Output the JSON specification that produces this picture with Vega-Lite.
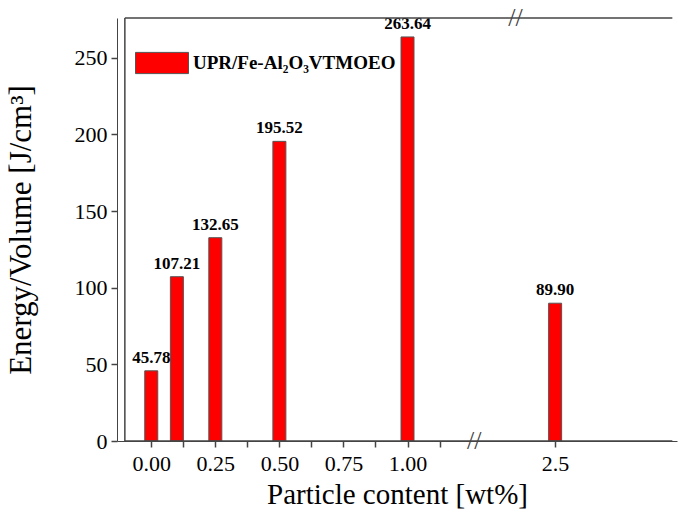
{
  "$schema": "https://vega.github.io/schema/vega-lite/v6.json",
  "width": 560,
  "height": 423,
  "config": {"view": {"stroke": null}},
  "layer": [
    {
      "data": {"values": [
        {"content": 0.0, "energy": 45.78, "series": "UPR/Fe-Al₂O₃VTMOEO"},
        {"content": 0.1, "energy": 107.21, "series": "UPR/Fe-Al₂O₃VTMOEO"},
        {"content": 0.25, "energy": 132.65, "series": "UPR/Fe-Al₂O₃VTMOEO"},
        {"content": 0.5, "energy": 195.52, "series": "UPR/Fe-Al₂O₃VTMOEO"},
        {"content": 1.0, "energy": 263.64, "series": "UPR/Fe-Al₂O₃VTMOEO"},
        {"content": 2.5, "energy": 89.90, "series": "UPR/Fe-Al₂O₃VTMOEO"}
      ]},
      "encoding": {
        "x": {
          "field": "content", "type": "quantitative",
          "scale": {"domain": [-0.103, 1.279, 2.0, 3.27], "range": [0, 362, 362, 560], "zero": false, "nice": false},
          "axis": {
            "title": "Particle content [wt%]", "titleFontSize": 29, "titlePadding": 6,
            "titleFont": "Liberation Serif", "titleFontWeight": "normal", "titleColor": "black",
            "labelFont": "Liberation Serif", "labelColor": "black",
            "values": [0, 0.125, 0.25, 0.375, 0.5, 0.625, 0.75, 0.875, 1.0, 1.125, 2.5],
            "labelExpr": "datum.value == 2.5 ? '2.5' : (datum.value * 4 % 1 == 0 ? format(datum.value, '.2f') : '')",
            "labelFontSize": 22, "labelPadding": 6, "labelFlush": false, "labelOverlap": false,
            "grid": false, "domainColor": "#444444", "tickColor": "#444444", "tickWidth": 1.5, "tickSize": 6
          }
        },
        "y": {
          "field": "energy", "type": "quantitative",
          "scale": {"domain": [0, 276], "nice": false, "zero": true},
          "axis": {
            "title": "Energy/Volume [J/cm³]", "titleFontSize": 31, "titlePadding": 37,
            "titleFont": "Liberation Serif", "titleFontWeight": "normal", "titleColor": "black",
            "labelFont": "Liberation Serif", "labelColor": "black",
            "values": [0, 25, 50, 75, 100, 125, 150, 175, 200, 225, 250, 275],
            "labelExpr": "datum.value % 50 == 0 ? datum.label : ''",
            "labelFontSize": 22, "labelPadding": 4, "labelOverlap": false,
            "grid": false, "domainColor": "#444444", "tickColor": "#444444", "tickWidth": 1.5, "tickSize": 6
          }
        }
      },
      "layer": [
        {
          "mark": {"type": "bar", "size": 13, "stroke": "#555555", "strokeWidth": 1},
          "encoding": {
            "color": {
              "field": "series", "type": "nominal",
              "scale": {"range": ["#ff0000"]},
              "legend": {
                "title": null, "orient": "top-left", "offsetX": 12, "offsetY": -38,
                "symbolType": "M-1,-0.4L1,-0.4L1,0.4L-1,0.4Z", "symbolSize": 2809,
                "symbolStrokeColor": "#555555", "symbolStrokeWidth": 1, "symbolOpacity": 1,
                "labelFont": "Liberation Serif", "labelFontSize": 19, "labelFontWeight": "bold",
                "labelColor": "black", "labelOffset": 4, "labelLimit": 400,
                "padding": 0
              }
            }
          }
        },
        {
          "mark": {"type": "text", "baseline": "bottom", "dy": -4, "fontWeight": "bold", "fontSize": 17, "font": "Liberation Serif", "color": "black"},
          "encoding": {"text": {"field": "energy", "type": "quantitative", "format": ".2f"}}
        }
      ]
    },
    {
      "data": {"values": [{"x": 1.26, "y": 0}, {"x": 2.24, "y": 276}]},
      "mark": {"type": "text", "text": "//", "fontSize": 26, "font": "Liberation Serif", "color": "#444444", "baseline": "middle", "align": "center"},
      "encoding": {
        "x": {"field": "x", "type": "quantitative"},
        "y": {"field": "y", "type": "quantitative"}
      }
    },
    {
      "data": {"values": [
        {"a": -0.103, "b": 3.27, "y": 276, "y2": 276},
        {"a": -0.103, "b": 3.27, "y": 0, "y2": 0},
        {"a": -0.103, "b": -0.103, "y": 0, "y2": 276}
      ]},
      "mark": {"type": "rule", "color": "#444444", "strokeWidth": 1.5},
      "encoding": {
        "x": {"field": "a", "type": "quantitative"},
        "x2": {"field": "b"},
        "y": {"field": "y", "type": "quantitative"},
        "y2": {"field": "y2"}
      }
    }
  ]
}
